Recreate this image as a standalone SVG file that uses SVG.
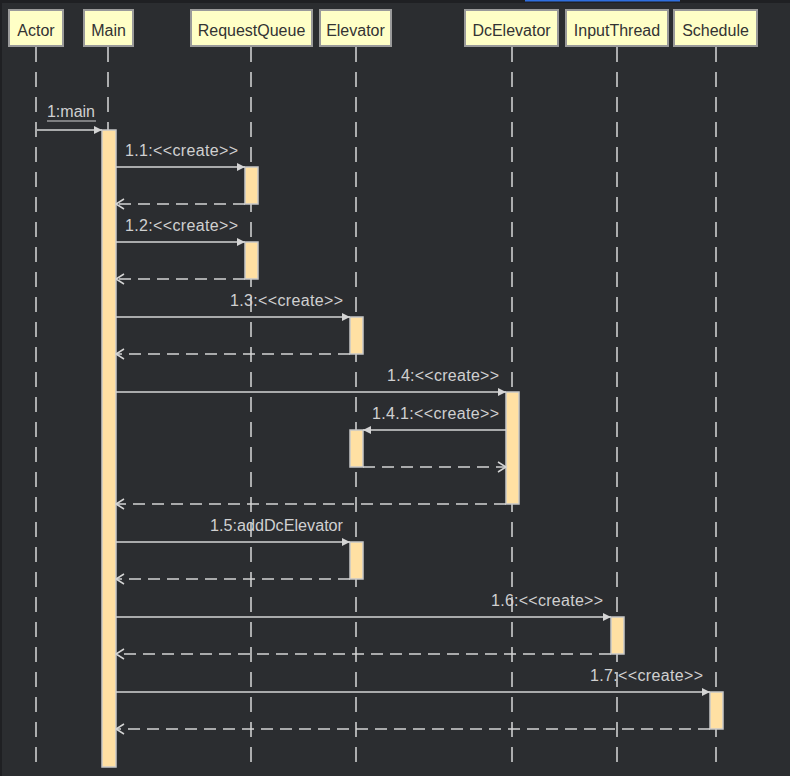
<svg xmlns="http://www.w3.org/2000/svg" width="790" height="776" viewBox="0 0 790 776">
<defs>
<marker id="solid" markerWidth="10" markerHeight="10" refX="9" refY="5" orient="auto" markerUnits="userSpaceOnUse">
<path d="M1,1 L9,5 L1,9 Z" fill="#d4d4d4"/>
</marker>
<marker id="open" markerWidth="12" markerHeight="12" refX="10" refY="6" orient="auto" markerUnits="userSpaceOnUse">
<path d="M2,1 L10,6 L2,11" fill="none" stroke="#d4d4d4" stroke-width="1.5"/>
</marker>
</defs>
<style>
.hdr{fill:#ffffc6;stroke:#9a9a9a;stroke-width:2}
.htxt{font-family:"Liberation Sans",Arial,sans-serif;font-size:16px;fill:#333333;text-anchor:middle}
.life{stroke:#d8d8d8;stroke-width:1.5;stroke-dasharray:15,10}
.act{fill:#ffe0a3;stroke:#c8c8c8;stroke-width:1.5}
.msg{stroke:#d4d4d4;stroke-width:1.5;fill:none;marker-end:url(#solid)}
.ret{stroke:#d4d4d4;stroke-width:1.5;fill:none;stroke-dasharray:12,7;marker-end:url(#open)}
.lbl{font-family:"Liberation Sans",Arial,sans-serif;font-size:16px;fill:#d0d0d0;text-anchor:end}
</style>
<rect x="0" y="0" width="790" height="776" fill="#2b2d30"/>
<rect x="0" y="0" width="790" height="3" fill="#1f2023"/>
<rect x="0" y="0" width="2" height="776" fill="#1f2023"/>
<rect x="525" y="0" width="155" height="1.5" fill="#2f6fe0"/>

<g id="Actor">
<rect class="hdr" x="9" y="10" width="54" height="36"/>
<text class="htxt" x="36" y="36">Actor</text>
<line class="life" x1="36" y1="47" x2="36" y2="768"/>
</g>
<g id="Main">
<rect class="hdr" x="84" y="10" width="49" height="36"/>
<text class="htxt" x="108.5" y="36">Main</text>
<line class="life" x1="108" y1="47" x2="108" y2="768"/>
</g>
<g id="RequestQueue">
<rect class="hdr" x="191" y="10" width="121" height="36"/>
<text class="htxt" x="251.5" y="36">RequestQueue</text>
<line class="life" x1="251" y1="47" x2="251" y2="768"/>
</g>
<g id="Elevator">
<rect class="hdr" x="320" y="10" width="71" height="36"/>
<text class="htxt" x="355.5" y="36">Elevator</text>
<line class="life" x1="356" y1="47" x2="356" y2="768"/>
</g>
<g id="DcElevator">
<rect class="hdr" x="465" y="10" width="93" height="36"/>
<text class="htxt" x="511.5" y="36">DcElevator</text>
<line class="life" x1="512" y1="47" x2="512" y2="768"/>
</g>
<g id="InputThread">
<rect class="hdr" x="566" y="10" width="102" height="36"/>
<text class="htxt" x="617" y="36">InputThread</text>
<line class="life" x1="617" y1="47" x2="617" y2="768"/>
</g>
<g id="Schedule">
<rect class="hdr" x="674" y="10" width="83" height="36"/>
<text class="htxt" x="715.5" y="36">Schedule</text>
<line class="life" x1="716" y1="47" x2="716" y2="768"/>
</g>

<g id="activations">
<rect class="act" x="102" y="130" width="14" height="637"/>
<rect class="act" x="245" y="167" width="13" height="37"/>
<rect class="act" x="245" y="242" width="13" height="37"/>
<rect class="act" x="350" y="317" width="13" height="37"/>
<rect class="act" x="506" y="392" width="13" height="112"/>
<rect class="act" x="350" y="430" width="13" height="37"/>
<rect class="act" x="350" y="542" width="13" height="37"/>
<rect class="act" x="611" y="617" width="13" height="37"/>
<rect class="act" x="710" y="692" width="13" height="37"/>
</g>

<g id="connectors">
<line class="msg" x1="37" y1="130" x2="102" y2="130"/>
<line class="msg" x1="116" y1="167" x2="245" y2="167"/>
<line class="ret" x1="245" y1="204" x2="116" y2="204"/>
<line class="msg" x1="116" y1="242" x2="245" y2="242"/>
<line class="ret" x1="245" y1="279" x2="116" y2="279"/>
<line class="msg" x1="116" y1="317" x2="350" y2="317"/>
<line class="ret" x1="350" y1="354" x2="116" y2="354"/>
<line class="msg" x1="116" y1="392" x2="506" y2="392"/>
<line class="msg" x1="506" y1="430" x2="363" y2="430"/>
<line class="ret" x1="363" y1="467" x2="506" y2="467"/>
<line class="ret" x1="506" y1="504" x2="116" y2="504"/>
<line class="msg" x1="116" y1="542" x2="350" y2="542"/>
<line class="ret" x1="350" y1="579" x2="116" y2="579"/>
<line class="msg" x1="116" y1="617" x2="611" y2="617"/>
<line class="ret" x1="611" y1="654" x2="116" y2="654"/>
<line class="msg" x1="116" y1="692" x2="710" y2="692"/>
<line class="ret" x1="710" y1="729" x2="116" y2="729"/>
</g>

<g id="labels">
<text class="lbl" x="95" y="117">1:main</text>
<line x1="47" y1="121" x2="96" y2="121" stroke="#d0d0d0" stroke-width="1.2"/>
<text class="lbl" x="238" y="156" textLength="113" lengthAdjust="spacing">1.1:&lt;&lt;create&gt;&gt;</text>
<text class="lbl" x="238" y="231" textLength="113" lengthAdjust="spacing">1.2:&lt;&lt;create&gt;&gt;</text>
<text class="lbl" x="343" y="306" textLength="113" lengthAdjust="spacing">1.3:&lt;&lt;create&gt;&gt;</text>
<text class="lbl" x="499" y="381" textLength="112" lengthAdjust="spacing">1.4:&lt;&lt;create&gt;&gt;</text>
<text class="lbl" x="499" y="419" textLength="127" lengthAdjust="spacing">1.4.1:&lt;&lt;create&gt;&gt;</text>
<text class="lbl" x="343" y="531" textLength="133" lengthAdjust="spacingAndGlyphs">1.5:addDcElevator</text>
<text class="lbl" x="603" y="606" textLength="112" lengthAdjust="spacing">1.6:&lt;&lt;create&gt;&gt;</text>
<text class="lbl" x="703" y="681" textLength="113" lengthAdjust="spacing">1.7:&lt;&lt;create&gt;&gt;</text>
</g>
</svg>
